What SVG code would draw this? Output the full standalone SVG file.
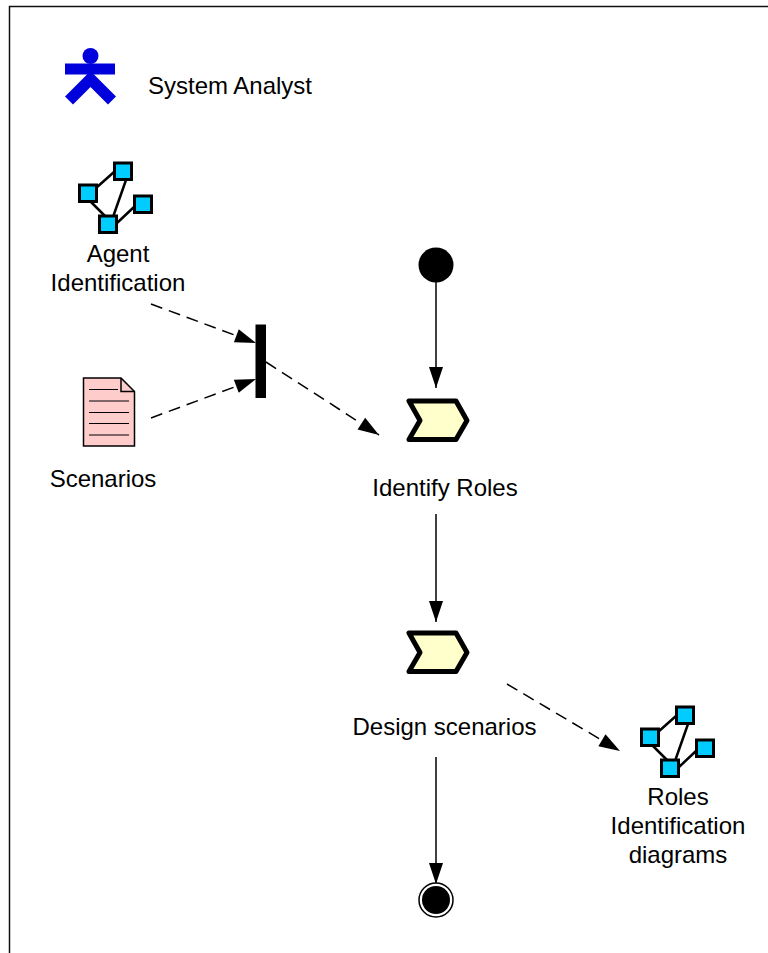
<svg xmlns="http://www.w3.org/2000/svg" width="768" height="953" viewBox="0 0 768 953">
<defs>
<marker id="arrow" markerUnits="userSpaceOnUse" markerWidth="26" markerHeight="18" refX="22" refY="9" orient="auto"><path d="M1,2 L22,9 L1,16 Z" fill="#000"/></marker>
<g id="diagram-icon">
<path class="l" d="M96,188 L114,172 M90,201 L106,217 M126,180 L113,217 M117,223 L134,207"/>
<rect class="sq" x="79.500" y="185" width="17" height="16.500"/>
<rect class="sq" x="114.500" y="163" width="17" height="16.500"/>
<rect class="sq" x="134.500" y="196" width="17" height="16.500"/>
<rect class="sq" x="99.500" y="216" width="17" height="16.500"/>
</g>
</defs>
<style>
text{font-family:"Liberation Sans",Arial,sans-serif;font-size:24px;fill:#000;text-anchor:middle}
.l{fill:none;stroke:#000;stroke-width:2.500}
.sq{fill:#00ccff;stroke:#000;stroke-width:3}
.chev{fill:#ffffcc;stroke:#000;stroke-width:5;stroke-linejoin:round}
.solid{fill:none;stroke:#000;stroke-width:1.500;marker-end:url(#arrow)}
.dash{fill:none;stroke:#000;stroke-width:1.500;stroke-dasharray:12 7;marker-end:url(#arrow)}
.doc{stroke:#000;stroke-width:1;fill:none}
</style>
<rect width="768" height="953" fill="#fff"/>
<path d="M9.500,953 V6.500 H768" fill="none" stroke="#111" stroke-width="1.500"/>
<g id="connectors">
<path class="solid" d="M436,282 V388"/>
<path class="solid" d="M436,514 V622"/>
<path class="solid" d="M436,757 V884"/>
<path class="dash" d="M151,304 L256,343"/>
<path class="dash" d="M151,418 L256,379"/>
<path class="dash" d="M266,362 L379,435"/>
<path class="dash" d="M507,684 L620,751"/>
</g>
<g id="actor-system-analyst">
<circle cx="90.500" cy="56" r="8" fill="#0000dd"/>
<rect x="65" y="63.500" width="50" height="11" fill="#0000dd"/>
<path d="M90.500,71 L65,96.500 L73,104.500 L90.500,87 L108,104.500 L116,96.500 Z" fill="#0000dd"/>
<text x="230" y="93.500">System Analyst</text>
</g>
<g id="agent-identification">
<use href="#diagram-icon"/>
<text x="118" y="261.500">Agent</text>
<text x="118" y="290.500">Identification</text>
</g>
<g id="scenarios">
<path d="M83.500,378 H121 L134.500,391.500 V446 H83.500 Z" fill="#ffcccc" stroke="#000" stroke-width="1.500"/>
<path d="M121,378 V391.500 H134.500" fill="none" stroke="#000" stroke-width="1.500"/>
<path class="doc" d="M89,389.500 H118 M89,401 H129 M89,412.500 H129 M89,423.500 H129 M89,435 H129"/>
<text x="103" y="487">Scenarios</text>
</g>
<g id="sync-bar"><rect x="255.500" y="324.500" width="10.500" height="73.500" fill="#000"/></g>
<g id="start"><circle cx="436" cy="265" r="17.500" fill="#000"/></g>
<g id="identify-roles">
<path class="chev" d="M409,401 H456 L467,420.500 L456,439.500 H409 L420,420.500 Z"/>
<text x="445" y="495.500">Identify Roles</text>
</g>
<g id="design-scenarios">
<path class="chev" d="M409,633 H456 L467,652.500 L456,671.500 H409 L420,652.500 Z"/>
<text x="444.500" y="734.500">Design scenarios</text>
</g>
<g id="roles-identification-diagrams">
<use href="#diagram-icon" x="562" y="544"/>
<text x="678" y="804.500">Roles</text>
<text x="678" y="833.500">Identification</text>
<text x="678" y="862.500">diagrams</text>
</g>
<g id="end">
<circle cx="436" cy="900" r="17" fill="#fff" stroke="#000" stroke-width="1.500"/>
<circle cx="436" cy="900" r="14" fill="#000"/>
</g>
</svg>
